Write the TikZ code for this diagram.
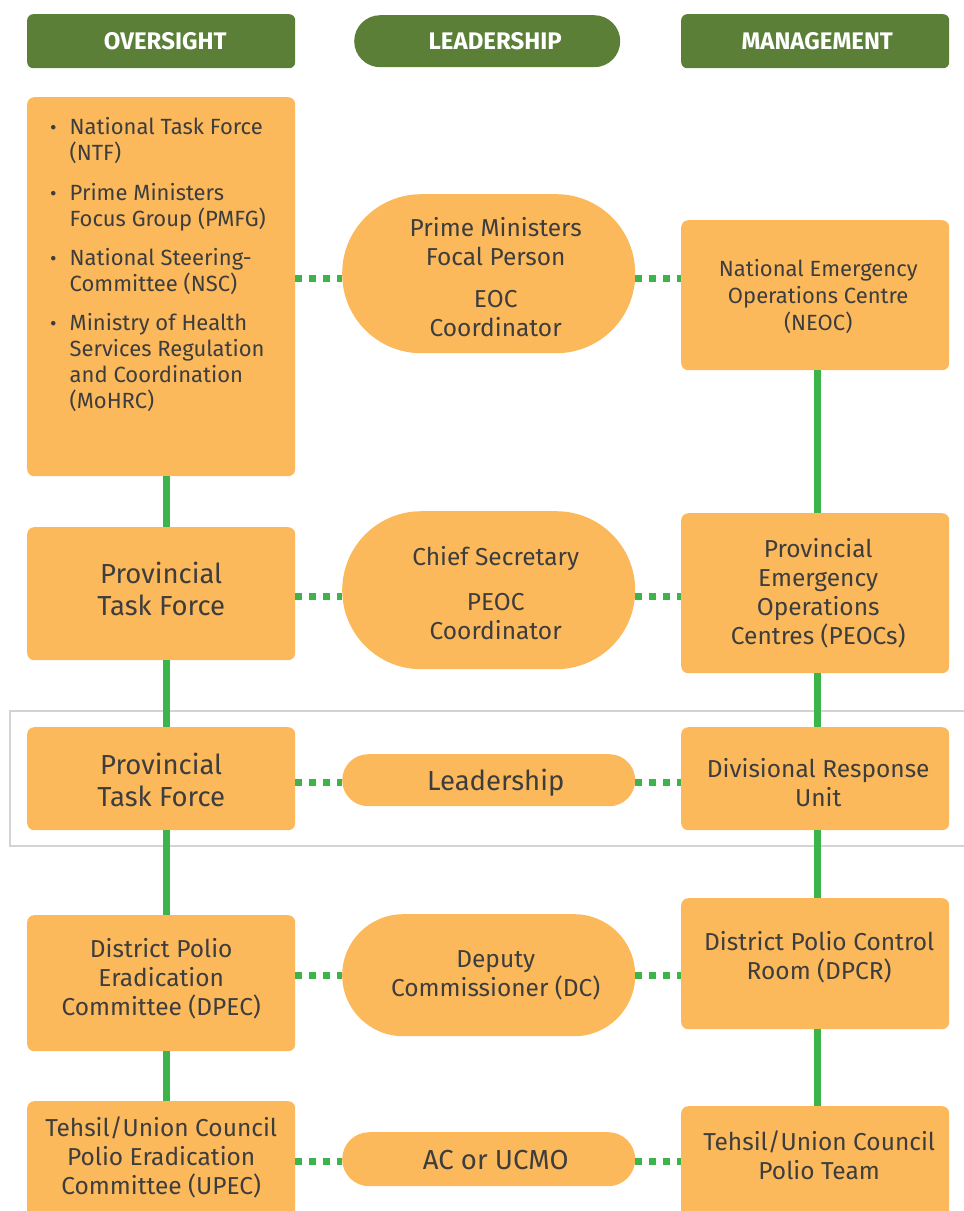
\documentclass[tikz,border=0pt]{standalone}
\usepackage{fontspec}
\setmainfont{Fira Sans}
\definecolor{hdrgreen}{HTML}{5B7F37}
\definecolor{boxorange}{HTML}{FBB95C}
\definecolor{lngreen}{HTML}{3BB54A}
\definecolor{framegray}{HTML}{D3D3D3}
\definecolor{txt}{HTML}{3D3D3D}
\tikzset{
  hdr/.style={fill=hdrgreen, inner sep=0pt, anchor=north west},
  hdrtx/.style={text=white, font=\bfseries\fontsize{24}{28}\selectfont, inner sep=0pt},
  obox/.style={fill=boxorange, rounded corners=7pt, inner sep=0pt, anchor=north west},
  tx/.style={text=txt, inner sep=0pt, align=center},
  vline/.style={draw=lngreen, line width=7pt},
  dline/.style={draw=lngreen, line width=7pt, dash pattern=on 7pt off 7pt},
  big/.style={font=\fontsize{27.5}{32}\selectfont},
  mid/.style={font=\fontsize{24.5}{29}\selectfont},
  sml/.style={font=\fontsize{22}{27}\selectfont},
  item/.style={text=txt, font=\fontsize{22}{26}\selectfont, anchor=north west, inner sep=0pt, align=left},
}
\newcommand{\bitem}[2]{\begin{tabular}{@{}l@{\hspace{13pt}}l@{}}{\fontsize{20}{26}\selectfont •}&#1\\&#2\end{tabular}}
\begin{document}
\begin{tikzpicture}[x=1pt,y=-1pt]
\useasboundingbox (0,0) rectangle (964,1211);
\clip (0,0) rectangle (964,1211);
% frame
\draw[framegray, line width=2.5pt] (10,711) rectangle (990,846);
% headers
\node[hdr, rounded corners=6pt, minimum width=268pt, minimum height=54pt] (h1) at (27,14) {};
\node[hdr, rounded corners=26pt, minimum width=266pt, minimum height=52pt] (h2) at (354,15) {};
\node[hdr, rounded corners=6pt, minimum width=268pt, minimum height=54pt] (h3) at (681,14) {};
\node[hdrtx] (h1t) at ([xshift=4pt]h1.center) {OVERSIGHT};
\node[hdrtx] (h2t) at ([xshift=8pt]h2.center) {LEADERSHIP};
\node[hdrtx] (h3t) at ([xshift=2pt]h3.center) {MANAGEMENT};
% left column boxes
\node[obox, minimum width=268pt, minimum height=379pt] (l1) at (27,97) {};
\node[obox, minimum width=268pt, minimum height=133pt] (l2) at (27,527) {};
\node[obox, minimum width=268pt, minimum height=103pt] (l3) at (27,727) {};
\node[obox, minimum width=268pt, minimum height=136pt] (l4) at (27,915) {};
\node[obox, minimum width=268pt, minimum height=140pt] (l5) at (27,1101) {};
% middle column boxes
\node[obox, rounded corners=79pt, minimum width=293pt, minimum height=159pt] (m1) at (342,194) {};
\node[obox, rounded corners=79pt, minimum width=293pt, minimum height=158pt] (m2) at (342,511) {};
\node[obox, rounded corners=26pt, minimum width=293pt, minimum height=52pt] (m3) at (342,754) {};
\node[obox, rounded corners=61pt, minimum width=293pt, minimum height=122pt] (m4) at (342,914) {};
\node[obox, rounded corners=27pt, minimum width=293pt, minimum height=54pt] (m5) at (342,1132) {};
% right column boxes
\node[obox, minimum width=268pt, minimum height=150pt] (r1) at (681,220) {};
\node[obox, minimum width=268pt, minimum height=160pt] (r2) at (681,513) {};
\node[obox, minimum width=268pt, minimum height=103pt] (r3) at (681,727) {};
\node[obox, minimum width=268pt, minimum height=131pt] (r4) at (681,898) {};
\node[obox, minimum width=268pt, minimum height=120pt] (r5) at (681,1106) {};
% bullet items
\node[item] (i1) at (50,116) {\bitem{National Task Force}{(NTF)}};
\node[item] (i2) at (50,182) {\bitem{Prime Ministers}{Focus Group (PMFG)}};
\node[item] (i3) at (50,247) {\bitem{National Steering-}{Committee (NSC)}};
\node[item] (i4) at (50,312) {\begin{tabular}{@{}l@{\hspace{13pt}}l@{}}{\fontsize{20}{26}\selectfont •}&Ministry of Health\\&Services Regulation\\&and Coordination\\&(MoHRC)\end{tabular}};
% texts
\node[tx, big] (l2t) at ([yshift=5pt]l2.center) {Provincial\\Task Force};
\node[tx, big] (l3t) at ([yshift=-1pt]l3.center) {Provincial\\Task Force};
\node[tx, mid] (l4t) at ([yshift=4pt]l4.center) {District Polio\\Eradication\\Committee (DPEC)};
\node[tx, mid] (l5t) at ([yshift=14pt]l5.center) {Tehsil/Union Council\\Polio Eradication\\Committee (UPEC)};
\node[tx, mid] (m1t) at ([xshift=7pt,yshift=-3pt]m1.center) {Prime Ministers\\Focal Person\\[13pt]EOC\\Coordinator};
\node[tx, mid] (m2t) at ([xshift=7pt,yshift=-3pt]m2.center) {Chief Secretary\\[16pt]PEOC\\Coordinator};
\node[tx, big] (m3t) at ([xshift=7pt,yshift=-2pt]m3.center) {Leadership};
\node[tx, mid] (m4t) at ([xshift=7pt]m4.center) {Deputy\\Commissioner (DC)};
\node[tx, big] (m5t) at ([xshift=7pt,yshift=-1pt]m5.center) {AC or UCMO};
\node[tx, sml] (r1t) at ([xshift=3pt,yshift=-1pt]r1.center) {National Emergency\\Operations Centre\\(NEOC)};
\node[tx, mid] (r2t) at ([xshift=3pt]r2.center) {Provincial\\Emergency\\Operations\\Centres (PEOCs)};
\node[tx, mid] (r3t) at ([xshift=3pt,yshift=-4pt]r3.center) {Divisional Response\\Unit};
\node[tx, mid] (r4t) at ([xshift=4pt,yshift=6pt]r4.center) {District Polio Control\\Room (DPCR)};
\node[tx, mid] (r5t) at ([xshift=4pt,yshift=11pt]r5.center) {Tehsil/Union Council\\Polio Team};
% vertical connectors
\draw[vline] ([xshift=5pt]l1.south) -- ([xshift=5pt]l2.north);
\draw[vline] ([xshift=5pt]l2.south) -- ([xshift=5pt]l3.north);
\draw[vline] ([xshift=5pt]l3.south) -- ([xshift=5pt]l4.north);
\draw[vline] ([xshift=5pt]l4.south) -- ([xshift=5pt]l5.north);
\draw[vline] ([xshift=2pt]r1.south) -- ([xshift=2pt]r2.north);
\draw[vline] ([xshift=2pt]r2.south) -- ([xshift=2pt]r3.north);
\draw[vline] ([xshift=2pt]r3.south) -- ([xshift=2pt]r4.north);
\draw[vline] ([xshift=2pt]r4.south) -- ([xshift=2pt]r5.north);
% dotted connectors
\draw[dline] ([yshift=-4.5pt]m1.west -| l1.east) -- ([yshift=-4.5pt]m1.west);
\draw[dline] ([yshift=-4.5pt]m1.east) -- ([yshift=-4.5pt]m1.east -| r1.west);
\draw[dline] ([yshift=-6pt]m2.west -| l2.east) -- ([yshift=-6pt]m2.west);
\draw[dline] ([yshift=-6pt]m2.east) -- ([yshift=-6pt]m2.east -| r2.west);
\draw[dline] ([yshift=-2pt]m3.west -| l3.east) -- ([yshift=-2pt]m3.west);
\draw[dline] ([yshift=-2pt]m3.east) -- ([yshift=-2pt]m3.east -| r3.west);
\draw[dline] (m4.west -| l4.east) -- (m4.west);
\draw[dline] (m4.east) -- (m4.east -| r4.west);
\draw[dline] ([yshift=-2pt]m5.west -| l5.east) -- ([yshift=-2pt]m5.west);
\draw[dline] ([yshift=-2pt]m5.east) -- ([yshift=-2pt]m5.east -| r5.west);
\end{tikzpicture}
\end{document}
